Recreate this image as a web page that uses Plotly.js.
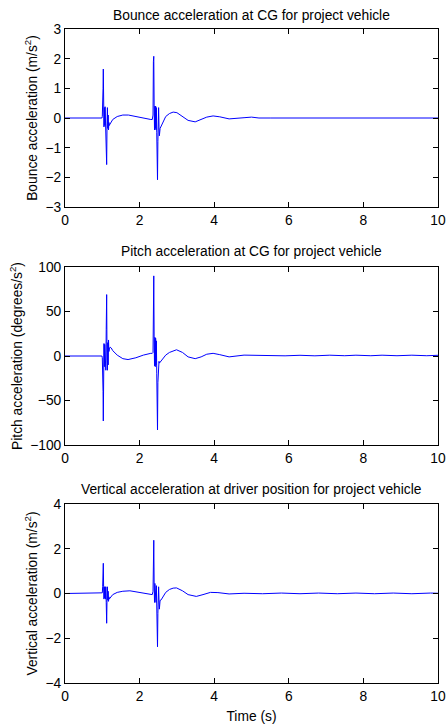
<!DOCTYPE html>
<html>
<head>
<meta charset="utf-8">
<script src="https://cdn.plot.ly/plotly-3.0.1.min.js"></script>
<style>html,body{margin:0;padding:0;background:#fff;}#chart{width:447px;height:726px;}</style>
</head>
<body>
<div id="chart"></div>
<script>
// ---- Data ----
const bounceTime = [0, 0.99, 1.0, 1.01, 1.02, 1.027, 1.035, 1.045, 1.055, 1.065, 1.075, 1.085, 1.095, 1.105, 1.117, 1.127, 1.137, 1.147, 1.157, 1.167, 1.177, 1.19, 1.2, 1.21, 1.23, 1.28, 1.4, 1.55, 1.7, 1.9, 2.1, 2.3, 2.34, 2.36, 2.37, 2.38, 2.39, 2.40, 2.41, 2.42, 2.43, 2.44, 2.45, 2.46, 2.47, 2.48, 2.49, 2.50, 2.51, 2.52, 2.53, 2.55, 2.57, 2.59, 2.62, 2.7, 2.8, 2.9, 3.0, 3.15, 3.3, 3.49, 3.65, 3.8, 3.97, 4.15, 4.4, 4.6, 4.8, 5.0, 5.2, 5.5, 10];
const bounceAcc  = [0, 0, 0.05, 0.35, 1.0, 1.65, 0.3, -0.3, 0.35, -0.25, 0.38, -0.3, 0.35, -0.5, -1.57, -0.2, 0.35, -0.35, 0.1, -0.4, -0.15, -0.25, -0.22, -0.2, -0.15, -0.05, 0.05, 0.1, 0.1, 0.05, -0.02, -0.05, -0.05, 0.1, 1.9, 2.08, 0.4, -0.4, 0.4, -0.35, 0.4, -0.4, 0.35, -0.5, -1.2, -2.08, -0.8, -0.3, 0.35, -0.3, -0.6, -0.35, -0.3, -0.25, -0.15, 0.05, 0.15, 0.2, 0.18, 0.05, -0.08, -0.13, -0.06, 0.03, 0.07, 0.04, -0.03, -0.02, 0.01, 0.03, 0.0, 0.0, 0.0];

const pitchTime = [0, 0.99, 1.0, 1.01, 1.02, 1.027, 1.035, 1.045, 1.055, 1.065, 1.075, 1.085, 1.095, 1.105, 1.117, 1.127, 1.137, 1.147, 1.157, 1.167, 1.177, 1.19, 1.21, 1.24, 1.28, 1.4, 1.55, 1.69, 1.9, 2.1, 2.3, 2.34, 2.36, 2.37, 2.38, 2.39, 2.40, 2.41, 2.42, 2.43, 2.44, 2.45, 2.46, 2.47, 2.48, 2.49, 2.50, 2.51, 2.52, 2.53, 2.55, 2.57, 2.59, 2.62, 2.7, 2.8, 2.9, 2.99, 3.15, 3.3, 3.49, 3.65, 3.8, 3.97, 4.15, 4.4, 4.8, 5.2, 5.5, 5.9, 6.3, 6.7, 7.1, 7.5, 7.8, 8.2, 8.5, 8.9, 9.3, 9.7, 10];
const pitchAcc  = [0, 0, -2, -12, -40, -73, -10, 14, -12, 13, -15, 10, -16, 30, 69, -5, -16, 15, -10, 18, 5, 8, 10, 9, 6, 1, -3, -4, -2, 1, 3, 3, 4, 60, 90, 20, -11, 21, -12, 20, -10, 17, -20, -50, -83, -30, -22, -10, -6, -8, -7, -6, -5, -3, 1, 4, 6, 7, 4, -1, -3, -1, 2, 3, 1.5, -1, 1, 0.5, 0.8, 0.2, 0.8, 0.2, 0.9, 0.3, 0.9, 0.3, 0.9, 0.3, 0.9, 0.3, 0.8];

const vertTime = [0, 0.99, 1.0, 1.01, 1.02, 1.027, 1.035, 1.045, 1.055, 1.065, 1.075, 1.085, 1.095, 1.105, 1.117, 1.127, 1.137, 1.147, 1.157, 1.167, 1.177, 1.19, 1.2, 1.21, 1.23, 1.28, 1.4, 1.55, 1.74, 1.9, 2.1, 2.3, 2.34, 2.36, 2.37, 2.38, 2.39, 2.40, 2.41, 2.42, 2.43, 2.44, 2.45, 2.46, 2.47, 2.48, 2.49, 2.50, 2.51, 2.52, 2.53, 2.55, 2.57, 2.59, 2.62, 2.7, 2.8, 2.9, 2.99, 3.15, 3.3, 3.52, 3.7, 3.9, 4.1, 4.4, 4.8, 5.3, 5.8, 6.3, 6.8, 7.3, 7.8, 8.3, 8.8, 9.3, 9.8, 10];
const vertAcc  = [0, 0, 0.03, 0.3, 0.9, 1.35, 0.3, -0.25, 0.3, -0.2, 0.3, -0.25, 0.3, -0.4, -1.33, -0.2, 0.3, -0.3, 0.1, -0.35, -0.15, -0.25, -0.22, -0.2, -0.15, -0.05, 0.05, 0.1, 0.12, 0.08, 0.0, -0.05, -0.05, 0.1, 2.1, 2.38, 0.4, -0.4, 0.45, -0.35, 0.4, -0.4, 0.35, -0.6, -1.4, -2.38, -0.9, -0.4, 0.3, -0.3, -0.7, -0.3, -0.3, -0.25, -0.15, 0.05, 0.18, 0.24, 0.25, 0.12, -0.05, -0.13, -0.05, 0.05, 0.04, -0.02, 0.01, -0.01, 0.02, -0.01, 0.02, -0.01, 0.02, -0.01, 0.02, -0.01, 0.02, 0.01];

const subTitles = [
  'Bounce acceleration at CG for project vehicle',
  'Pitch acceleration at CG for project vehicle',
  'Vertical acceleration at driver position for project vehicle'
];
const yTitles = [
  'Bounce acceleration (m/s<sup>2</sup>)',
  'Pitch acceleration (degrees/s<sup>2</sup>)',
  'Vertical acceleration (m/s<sup>2</sup>)'
];
const xTitle = 'Time (s)';
const xTicks = [0, 2, 4, 6, 8, 10];
const yTicks1 = [-3, -2, -1, 0, 1, 2, 3];
const yTicks2 = [-100, -50, 0, 50, 100];
const yTicks3 = [-4, -2, 0, 2, 4];

// ---- Chart ----
const FONT = 'Liberation Sans, Arial, Helvetica, sans-serif';
const FS = 13.8;
const lineStyle = {color: '#0000ff', width: 1};

const traces = [
  {x: bounceTime, y: bounceAcc, xaxis: 'x', yaxis: 'y', type: 'scatter', mode: 'lines', line: lineStyle, hoverinfo: 'skip'},
  {x: pitchTime, y: pitchAcc, xaxis: 'x2', yaxis: 'y2', type: 'scatter', mode: 'lines', line: lineStyle, hoverinfo: 'skip'},
  {x: vertTime, y: vertAcc, xaxis: 'x3', yaxis: 'y3', type: 'scatter', mode: 'lines', line: lineStyle, hoverinfo: 'skip'}
];

function xa(anchor, withTitle) {
  const a = {
    anchor: anchor, domain: [0, 1], range: [0, 10], tickvals: xTicks,
    ticks: 'inside', ticklen: 5, tickcolor: '#000', mirror: 'ticks',
    showline: true, linecolor: '#000', linewidth: 1,
    showgrid: false, zeroline: false, fixedrange: true, automargin: false,
    tickfont: {family: FONT, size: FS, color: '#000'}
  };
  if (withTitle) a.title = {text: xTitle, font: {family: FONT, size: FS, color: '#000'}, standoff: 8};
  return a;
}
function ya(anchor, dom, rng, tv, title) {
  return {
    anchor: anchor, domain: dom, range: rng, tickvals: tv,
    ticks: 'inside', ticklen: 5, tickcolor: '#000', mirror: 'ticks',
    showline: true, linecolor: '#000', linewidth: 1,
    showgrid: false, zeroline: false, fixedrange: true, automargin: false,
    tickfont: {family: FONT, size: FS, color: '#000'},
    title: {text: title, font: {family: FONT, size: FS, color: '#000'}, standoff: 4}
  };
}

const layout = {
  width: 447, height: 726,
  margin: {l: 65, r: 9, t: 29, b: 43},
  paper_bgcolor: '#fff', plot_bgcolor: '#fff',
  showlegend: false,
  font: {family: FONT, size: FS, color: '#000'},
  xaxis: xa('y', false),
  xaxis2: xa('y2', false),
  xaxis3: xa('y3', true),
  yaxis: ya('x', [0.7278, 1], [-3, 3], yTicks1, yTitles[0]),
  yaxis2: ya('x2', [0.3639, 0.6361], [-100, 100], yTicks2, yTitles[1]),
  yaxis3: ya('x3', [0, 0.2737], [-4, 4], yTicks3, yTitles[2]),
  annotations: [
    {text: subTitles[0], xref: 'paper', yref: 'paper', x: 0.5, y: 1.0214, xanchor: 'center', yanchor: 'middle', showarrow: false, font: {family: FONT, size: FS, color: '#000'}},
    {text: subTitles[1], xref: 'paper', yref: 'paper', x: 0.5, y: 0.6595, xanchor: 'center', yanchor: 'middle', showarrow: false, font: {family: FONT, size: FS, color: '#000'}},
    {text: subTitles[2], xref: 'paper', yref: 'paper', x: 0.5, y: 0.2962, xanchor: 'center', yanchor: 'middle', showarrow: false, font: {family: FONT, size: FS, color: '#000'}}
  ]
};

Plotly.newPlot('chart', traces, layout, {staticPlot: true, displayModeBar: false});
</script>
</body>
</html>
